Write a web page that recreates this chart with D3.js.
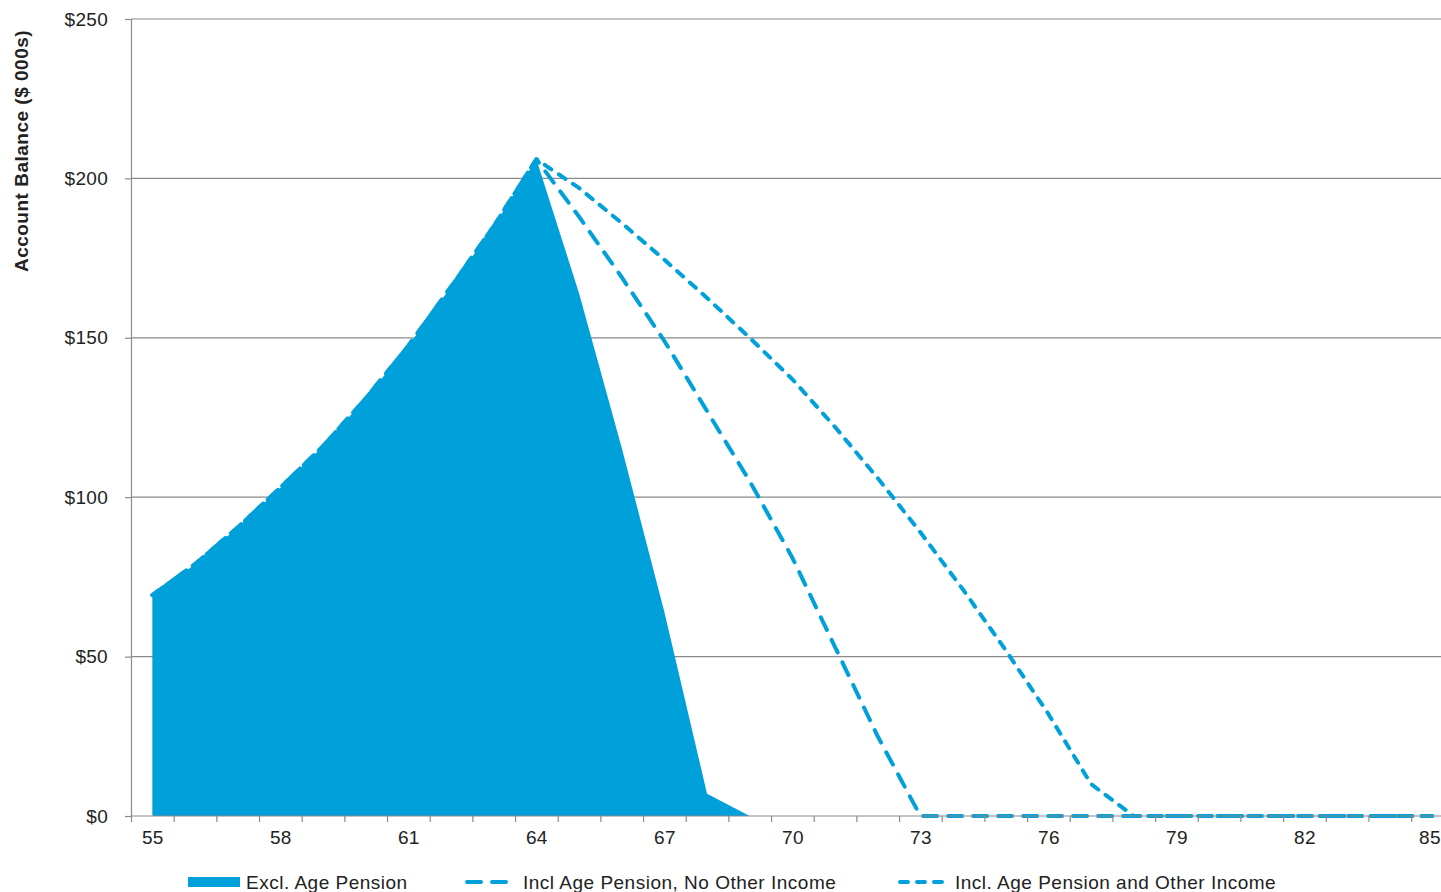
<!DOCTYPE html>
<html>
<head>
<meta charset="utf-8">
<script src="https://cdn.jsdelivr.net/npm/d3@7"></script>
<style>
  body { margin: 0; background: #fff; }
  svg text { font-family: "Liberation Sans", Arial, sans-serif; fill: #222; }
</style>
</head>
<body>
<div id="chart"></div>
<script>
// ages (categories) and balances in $000s
const ages = [55, 56, 57, 58, 59, 60, 61, 62, 63, 64, 65, 66, 67, 68, 69, 70,
              71, 72, 73, 74, 75, 76, 77, 78, 79, 80, 81, 82, 83, 84, 85]
const labelAges = [55, 58, 61, 64, 67, 70, 73, 76, 79, 82, 85]
const yTicks = [0, 50, 100, 150, 200, 250]

const exclPension = [69.3, 79, 90.5, 103, 116, 131, 147.5, 166, 185, 206,
                     164, 115.5, 64, 7, 0, 0, 0, 0, 0, 0, 0, 0, 0, 0, 0, 0, 0, 0, 0, 0, 0]
const noOtherIncome = [69.3, 79, 90.5, 103, 116, 131, 147.5, 166, 185, 206,
                       188, 169, 149, 127, 105, 81, 53, 25, 0, 0, 0, 0, 0, 0, 0, 0, 0, 0, 0, 0, 0]
const withOtherIncome = [69.3, 79, 90.5, 103, 116, 131, 147.5, 166, 185, 206,
                         197, 186, 174.5, 162.5, 150, 137, 122, 106, 89, 71, 52, 32, 10, 0, 0, 0, 0, 0, 0, 0, 0]

const W = 1441, H = 892
const LEFT = 131, TOP = 19, BOTTOM = 816
const STEP = 42.67
const BLUE = "#00A1DB"
const GREY = "#8a8a8a"

const svg = d3.select("#chart").append("svg")
    .attr("width", W)
    .attr("height", H)

// category axis: points sit in the middle of each year slot
const x = d3.scaleLinear()
    .domain([54.5, 85.5])
    .range([LEFT, LEFT + STEP * 31])

const y = d3.scaleLinear()
    .domain([0, 250])
    .range([BOTTOM, TOP])

// gridlines
svg.append("g")
    .selectAll("line")
    .data(yTicks.filter(d => d > 0))
    .enter()
    .append("line")
    .attr("x1", LEFT)
    .attr("x2", W)
    .attr("y1", d => y(d))
    .attr("y2", d => y(d))
    .attr("stroke", GREY)
    .attr("stroke-width", 1.2)

// area: Excl. Age Pension
const area = d3.area()
    .x((d, i) => x(ages[i]))
    .y0(y(0))
    .y1(d => y(d))

svg.append("path")
    .datum(exclPension)
    .attr("d", area)
    .attr("fill", BLUE)

// dashed lines
const line = d3.line()
    .x((d, i) => x(ages[i]))
    .y(d => y(d))

svg.append("path")
    .datum(noOtherIncome)
    .attr("d", line)
    .attr("fill", "none")
    .attr("stroke", BLUE)
    .attr("stroke-width", 4)
    .attr("stroke-linecap", "round")
    .attr("stroke-linejoin", "round")
    .attr("stroke-dasharray", "14,11")

svg.append("path")
    .datum(withOtherIncome)
    .attr("d", line)
    .attr("fill", "none")
    .attr("stroke", BLUE)
    .attr("stroke-width", 4)
    .attr("stroke-linecap", "round")
    .attr("stroke-linejoin", "round")
    .attr("stroke-dasharray", "8,9")

// y axis
const yAxis = svg.append("g")
    .attr("transform", "translate(" + LEFT + ",0)")
    .call(d3.axisLeft(y).tickValues(yTicks).tickSize(6).tickPadding(17)
        .tickFormat(d => "$" + d))
yAxis.select(".domain").attr("stroke", GREY).attr("stroke-width", 1.2)
yAxis.selectAll(".tick line").attr("stroke", GREY).attr("stroke-width", 1.2)
yAxis.selectAll(".tick text")
    .style("font-size", "19px")
    .style("letter-spacing", "0.3px")

// x axis: tick marks between categories, labels every 3 years
const xTicksG = svg.append("g")
    .attr("transform", "translate(0," + BOTTOM + ")")
    .call(d3.axisBottom(x).tickValues(d3.range(54.5, 86, 1)).tickSize(6).tickFormat(""))
xTicksG.select(".domain").attr("stroke", GREY).attr("stroke-width", 1.2)
    .attr("d", "M" + LEFT + ",0H" + W)
xTicksG.selectAll(".tick line").attr("stroke", GREY).attr("stroke-width", 1.2)

const xLabels = svg.append("g")
    .attr("transform", "translate(0," + BOTTOM + ")")
    .call(d3.axisBottom(x).tickValues(labelAges).tickSize(0).tickPadding(15))
xLabels.select(".domain").remove()
xLabels.selectAll(".tick text")
    .style("font-size", "19px")
    .style("letter-spacing", "0.3px")
// keep the last label inside the page edge
xLabels.selectAll(".tick text")
    .filter(d => d === 85)
    .attr("dx", -3)

// y title
svg.append("text")
    .attr("transform", "translate(28,151) rotate(-90)")
    .attr("text-anchor", "middle")
    .style("font-size", "19px")
    .style("font-weight", "bold")
    .style("letter-spacing", "0.5px")
    .text("Account Balance ($ 000s)")

// legend
const legend = svg.append("g")
const LY = 882

legend.append("rect")
    .attr("x", 188).attr("y", LY - 5)
    .attr("width", 52).attr("height", 10)
    .attr("fill", BLUE)
legend.append("text")
    .attr("x", 246).attr("y", LY + 7)
    .style("font-size", "19px").style("letter-spacing", "0.5px")
    .text("Excl. Age Pension")

legend.append("line")
    .attr("x1", 467).attr("x2", 513)
    .attr("y1", LY).attr("y2", LY)
    .attr("stroke", BLUE).attr("stroke-width", 4)
    .attr("stroke-linecap", "round")
    .attr("stroke-dasharray", "14,11")
legend.append("text")
    .attr("x", 523).attr("y", LY + 7)
    .style("font-size", "19px").style("letter-spacing", "0.5px")
    .text("Incl Age Pension, No Other Income")

legend.append("line")
    .attr("x1", 900).attr("x2", 945)
    .attr("y1", LY).attr("y2", LY)
    .attr("stroke", BLUE).attr("stroke-width", 4)
    .attr("stroke-linecap", "round")
    .attr("stroke-dasharray", "8,9")
legend.append("text")
    .attr("x", 955).attr("y", LY + 7)
    .style("font-size", "19px").style("letter-spacing", "0.5px")
    .text("Incl. Age Pension and Other Income")
</script>
</body>
</html>
